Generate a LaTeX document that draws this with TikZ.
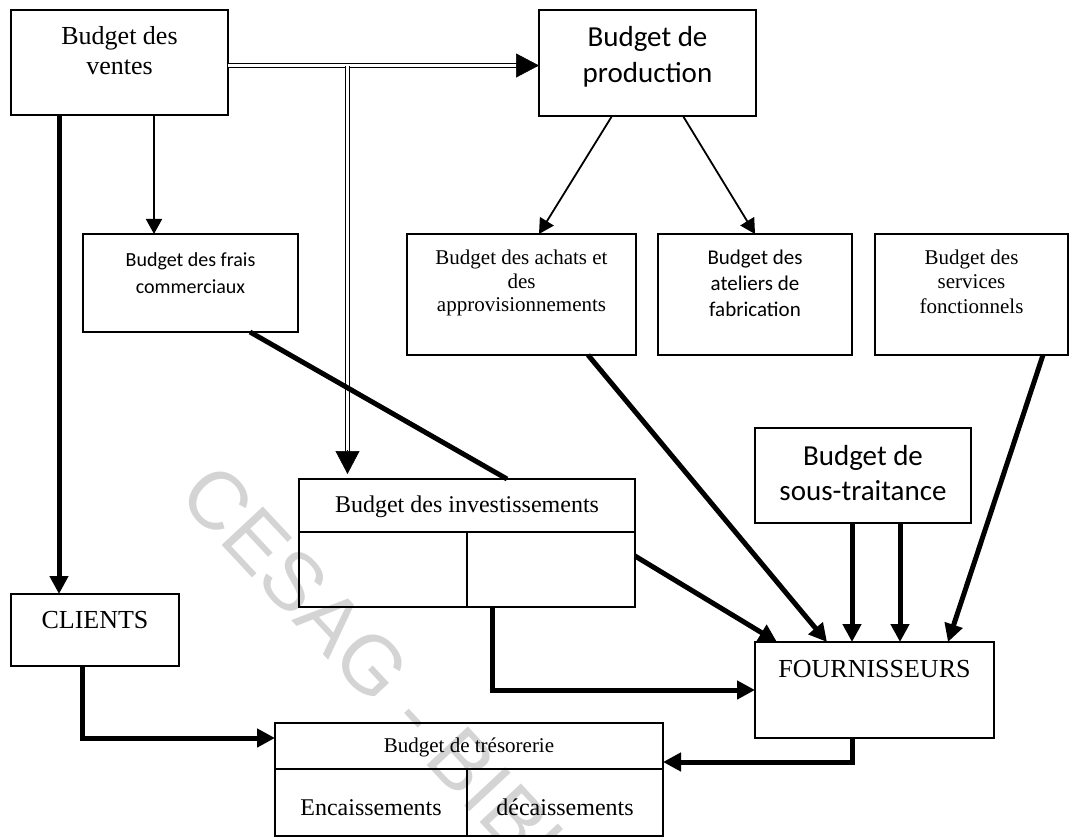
\documentclass[tikz,border=0pt]{standalone}
\usepackage{fontspec}
\setmainfont{Liberation Serif}
\newfontfamily\calib{Carlito}
\newfontfamily\wmfont{Liberation Sans}
\usetikzlibrary{arrows.meta,calc}
\begin{document}
\begin{tikzpicture}[x=1pt,y=-1pt,
  box/.style={draw, line width=1.4pt, inner sep=0pt, outer sep=0pt},
  txt/.style={anchor=base, inner sep=0pt, outer sep=0pt},
  thinarrow/.style={line width=1.8pt, -{Triangle[length=15pt,width=16pt]}},
  thickarrow/.style={line width=5pt, line join=miter, -{Triangle[length=18pt,width=18pt]}},
  thickline/.style={line width=5pt},
  dbl/.style={draw=black, line width=1.3pt, double=white, double distance=2.6pt},
  bigtip/.style={line width=0.5pt, -{Triangle[length=23pt,width=24pt]}}]
\useasboundingbox (0,0) rectangle (1071,837);
% watermark
\begin{scope}
\clip (0,0) rectangle (1071,837);
\node[anchor=west, inner sep=0pt, rotate=-47, text=black!17, font=\wmfont\fontsize{82}{82}\selectfont] (wm) at (192,483) {CESAG - BIBLIOTHEQUE};
\end{scope}
% boxes
\node[box, minimum width=217pt, minimum height=105pt] (ventes) at (119.5,62.5) {};
\node[box, minimum width=217pt, minimum height=106pt] (prod) at (647.5,63) {};
\node[box, minimum width=215pt, minimum height=98pt] (frais) at (190.5,283) {};
\node[box, minimum width=229pt, minimum height=121pt] (achats) at (521.5,294.5) {};
\node[box, minimum width=194pt, minimum height=121pt] (ateliers) at (755,294.5) {};
\node[box, minimum width=193pt, minimum height=121pt] (serv) at (971.5,294.5) {};
\node[box, minimum width=216pt, minimum height=95pt] (sous) at (863,475.5) {};
\node[box, minimum width=239pt, minimum height=96pt] (fourn) at (874.5,690) {};
\node[box, minimum width=336pt, minimum height=128pt] (invest) at (467,543) {};
\node[box, minimum width=168pt, minimum height=72pt] (clients) at (95,630) {};
\node[box, minimum width=388pt, minimum height=113pt] (treso) at (469,779.5) {};
% inner divisions
\draw[line width=1.4pt] ($(invest.north west)+(0,53)$) -- ($(invest.north east)+(0,53)$);
\draw[line width=1.4pt] ($(invest.north west)+(168,53)$) -- ($(invest.south west)+(168,0)$);
\draw[line width=1.4pt] ($(treso.north west)+(0,46)$) -- ($(treso.north east)+(0,46)$);
\draw[line width=1.4pt] ($(treso.north west)+(192,46)$) -- ($(treso.south west)+(192,0)$);
% texts
\node[txt] (ventes-t) at (119.5,45) {\fontsize{26}{30}\selectfont\begin{tabular}[t]{@{}c@{}}Budget des\\ventes\end{tabular}};
\node[txt] (prod-t) at (647.5,47) {\calib\fontsize{29}{36}\selectfont\begin{tabular}[t]{@{}c@{}}Budget de\\production\end{tabular}};
\node[txt] (frais-t) at (190.5,266) {\calib\fontsize{20}{27}\selectfont\begin{tabular}[t]{@{}c@{}}Budget des frais\\commerciaux\end{tabular}};
\node[txt] (achats-t) at (521.5,265) {\fontsize{21}{23.5}\selectfont\begin{tabular}[t]{@{}c@{}}Budget des achats et\\des\\approvisionnements\end{tabular}};
\node[txt] (ateliers-t) at (755,265) {\calib\fontsize{21}{26}\selectfont\begin{tabular}[t]{@{}c@{}}Budget des\\ateliers de\\fabrication\end{tabular}};
\node[txt] (serv-t) at (971.5,265) {\fontsize{21}{24}\selectfont\begin{tabular}[t]{@{}c@{}}Budget des\\services\\fonctionnels\end{tabular}};
\node[txt] (sous-t) at (863,465) {\calib\fontsize{29}{35}\selectfont\begin{tabular}[t]{@{}c@{}}Budget de\\sous-traitance\end{tabular}};
\node[txt] (fourn-t) at (874.5,677) {\fontsize{26}{30}\selectfont FOURNISSEURS};
\node[txt] (clients-t) at (95,628) {\fontsize{26}{30}\selectfont CLIENTS};
\node[txt] (invest-t) at (467,512) {\fontsize{24}{28}\selectfont Budget des investissements};
\node[txt] (treso-t) at (469,752) {\fontsize{21}{25}\selectfont Budget de trésorerie};
\node[txt] (enc-t) at (371,815) {\fontsize{24}{28}\selectfont Encaissements};
\node[txt] (dec-t) at (565,815) {\fontsize{24}{28}\selectfont décaissements};
% double line ventes -> production and -> investissements
\coordinate (j) at ($(ventes.east)+(0,3)$);
\coordinate (split) at ($(invest.north west |- j)+(48.5,0)$);
\draw[dbl] (j) -- ($(prod.west |- j)+(-21,0)$);
\draw[bigtip] ($(prod.west |- j)+(-23,0)$) -- (prod.west |- j);
\draw[dbl] ($(split)+(0,0.5)$) -- ($(invest.north west)+(48.5,-27)$);
\draw[bigtip] ($(invest.north west)+(48.5,-29)$) -- ($(invest.north west)+(48.5,-5)$);
% ventes -> clients, ventes -> frais
\draw[thickarrow] ($(ventes.south west)+(48,0)$) -- ($(clients.north west)+(48,0)$);
\draw[thinarrow] ($(ventes.south west)+(143,0)$) -- ($(frais.north west)+(71,0)$);
% production -> achats, ateliers
\draw[thinarrow] ($(prod.south west)+(73,0)$) -- ($(achats.north west)+(132,0)$);
\draw[thinarrow] ($(prod.south west)+(144,0)$) -- ($(ateliers.north west)+(97,0)$);
% frais -> investissements
\draw[thickline] ($(frais.south west)+(167,0)$) -- ($(invest.north west)+(208,0)$);
% to fournisseurs
\draw[thickarrow] ($(achats.south west)+(181,0)$) -- ($(fourn.north west)+(72,0)$);
\draw[thickarrow] ($(serv.south west)+(168,0)$) -- ($(fourn.north west)+(193,0)$);
\draw[thickarrow] ($(sous.south west)+(97,0)$) -- ($(fourn.north west)+(97,0)$);
\draw[thickarrow] ($(sous.south west)+(145,0)$) -- ($(fourn.north west)+(145,0)$);
\draw[thickarrow] ($(invest.north east)+(0,77)$) -- ($(fourn.north west)+(22,0)$);
\draw[thickarrow] ($(invest.south west)+(193,0)$) |- (fourn.west);
% to tresorerie
\draw[thickarrow] ($(fourn.south west)+(97,0)$) |- ($(treso.north east)+(0,39)$);
\draw[thickarrow] ($(clients.south west)+(71,0)$) |- ($(treso.north west)+(0,15)$);
\end{tikzpicture}
\end{document}
